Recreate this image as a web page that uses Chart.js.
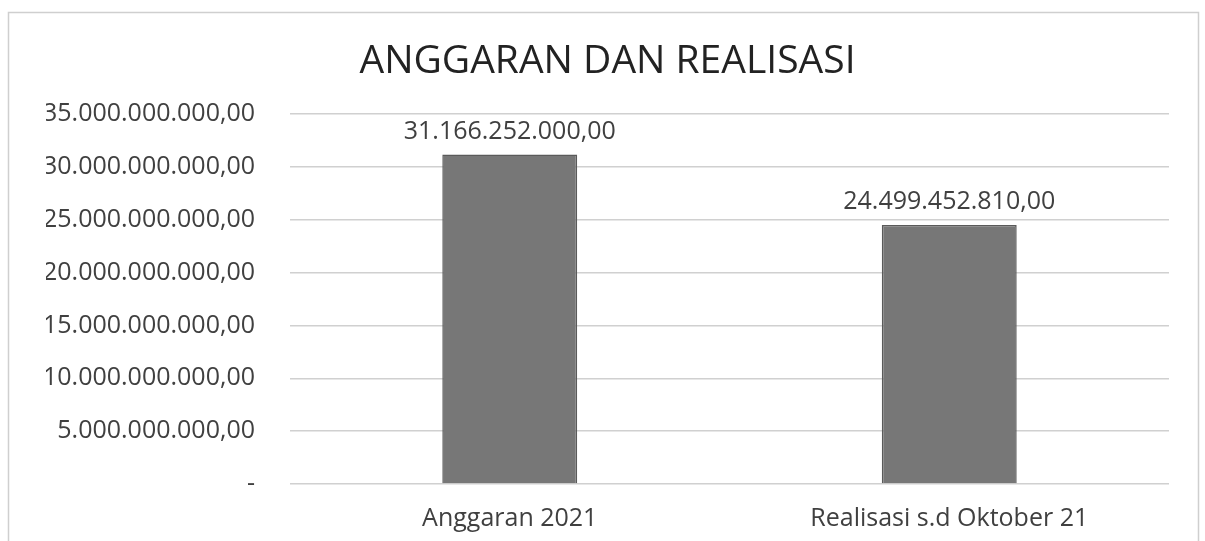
<!DOCTYPE html>
<html>
<head>
<meta charset="utf-8">
<script src="https://cdn.jsdelivr.net/npm/chart.js@4.4.0/dist/chart.umd.min.js"></script>
<style>
  html, body { margin: 0; padding: 0; background: #fff; }
  #wrap { width: 1205px; height: 541px; position: relative; }
</style>
</head>
<body>
<div id="wrap"><canvas id="c" width="1205" height="541"></canvas></div>
<script>
const categories = ['Anggaran 2021', 'Realisasi s.d Oktober 21'];
const values = [31166252000, 24499452810];
const chartTitle = 'ANGGARAN DAN REALISASI';

// 35.000.000.000,00 style, zero shown as a dash
function fmtRupiah(v) {
  if (v === 0) return '-';
  const parts = v.toFixed(2).split('.');
  const int = parts[0].replace(/\B(?=(\d{3})+(?!\d))/g, '.');
  return int + ',' + parts[1];
}

const frame = {
  id: 'frame',
  beforeDraw(chart) {
    const ctx = chart.ctx;
    ctx.save();
    ctx.strokeStyle = '#cfcfcf';
    ctx.lineWidth = 1.5;
    ctx.strokeRect(8.5, 12.5, 1190, 600);
    ctx.restore();
  }
};

const valueLabels = {
  id: 'valueLabels',
  afterDatasetsDraw(chart) {
    const ctx = chart.ctx;
    const meta = chart.getDatasetMeta(0);
    ctx.save();
    ctx.font = '25px "Open Sans"';
    ctx.fillStyle = '#404040';
    ctx.textAlign = 'center';
    ctx.textBaseline = 'middle';
    meta.data.forEach((bar, i) => {
      ctx.fillText(fmtRupiah(values[i]), bar.x, bar.y - 23);
    });
    ctx.restore();
  }
};

new Chart(document.getElementById('c'), {
  type: 'bar',
  data: {
    labels: categories,
    datasets: [{
      data: values,
      backgroundColor: '#777777',
      borderColor: '#5a5a5a',
      borderWidth: 1.5,
      categoryPercentage: 1,
      barPercentage: 0.307,
    }],
  },
  options: {
    responsive: false,
    animation: false,
    layout: { padding: { left: 46, right: 36, top: 0, bottom: 8 } },
    plugins: {
      legend: { display: false },
      tooltip: { enabled: false },
      title: {
        display: true,
        text: chartTitle,
        color: '#222222',
        font: { family: 'Open Sans', size: 39, weight: 'normal', lineHeight: 1.2 },
        padding: { top: 38.6, bottom: 28.6 },
      },
    },
    scales: {
      x: {
        afterFit(scale) { scale.height = 49; },
        grid: { display: false, drawTicks: false },
        border: { display: false },
        ticks: {
          color: '#404040',
          padding: 20,
          maxRotation: 0,
          font: { family: 'Open Sans', size: 25 },
        },
      },
      y: {
        min: 0,
        max: 35000000000,
        afterFit(scale) { scale.width = 244; },
        grid: { color: '#d0d0d0', lineWidth: 1.5, drawTicks: false },
        border: { display: false },
        ticks: {
          stepSize: 5000000000,
          color: '#404040',
          padding: 35,
          font: { family: 'Open Sans', size: 25 },
          callback: v => fmtRupiah(v),
        },
      },
    },
  },
  plugins: [frame, valueLabels],
});
</script>
</body>
</html>
